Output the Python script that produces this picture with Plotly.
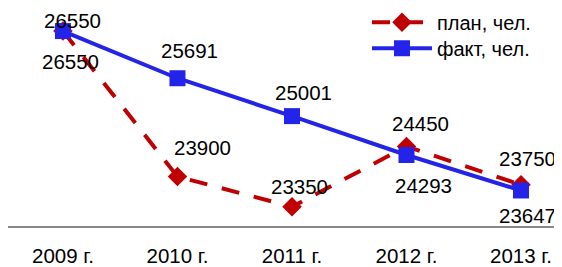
import plotly.graph_objects as go

years = ["2009 г.", "2010 г.", "2011 г.", "2012 г.", "2013 г."]
plan = [26550, 23900, 23350, 24450, 23750]
fact = [26550, 25691, 25001, 24293, 23647]

# label offsets (pixels) relative to each point
plan_dx = [8, 25, 8, 14, 6]
plan_dy = [-30, 29, 20, 23, 26]
fact_dx = [10, 12, 12, 17, 6]
fact_dy = [11, 28, 24, -30, -25]

RED = "#C00000"
BLUE = "#2424E8"
FONT = "Liberation Sans, Arial, sans-serif"

fig = go.Figure()
fig.add_trace(go.Scatter(
    x=years, y=plan, name="план, чел.", mode="lines+markers",
    line=dict(color=RED, width=4, dash="18px,15px"),
    marker=dict(symbol="diamond", size=15, color=RED),
    legend="legend",
))
fig.add_trace(go.Scatter(
    x=years, y=fact, name="факт, чел.", mode="lines+markers",
    line=dict(color=BLUE, width=4),
    marker=dict(symbol="square", size=16, color=BLUE),
    legend="legend2",
))

ann = []
for i, y in enumerate(years):
    ann.append(dict(x=y, y=plan[i], xref="x", yref="y", text=str(plan[i]),
                    showarrow=False, xshift=plan_dx[i], yshift=plan_dy[i],
                    font=dict(size=20.5, color="#000", family=FONT)))
    ann.append(dict(x=y, y=fact[i], xref="x", yref="y", text=str(fact[i]),
                    showarrow=False, xshift=fact_dx[i], yshift=fact_dy[i],
                    font=dict(size=20.5, color="#000", family=FONT)))

leg = dict(xanchor="left", yanchor="middle", bgcolor="rgba(0,0,0,0)",
           font=dict(size=20, family=FONT), itemwidth=60)

# page body has an 8px margin, so the figure is 8px smaller
fig.update_layout(
    width=554, height=259,
    margin=dict(l=0, r=0, t=0, b=41, autoexpand=False),
    paper_bgcolor="white", plot_bgcolor="white",
    font=dict(family=FONT, size=20, color="#000"),
    annotations=ann,
    showlegend=True,
    legend=dict(leg, x=0.648, y=0.935),
    legend2=dict(leg, x=0.648, y=0.815),
    xaxis=dict(type="category", range=[-0.480, 4.358], showgrid=False,
               showline=True, linecolor="#888888", linewidth=2,
               ticks="", tickfont=dict(size=20.5), zeroline=False,
               ticklabelstandoff=10, automargin=False),
    yaxis=dict(range=[23000, 26970], visible=False, showgrid=False,
               zeroline=False, automargin=False),
)

fig.write_html("out.html")
